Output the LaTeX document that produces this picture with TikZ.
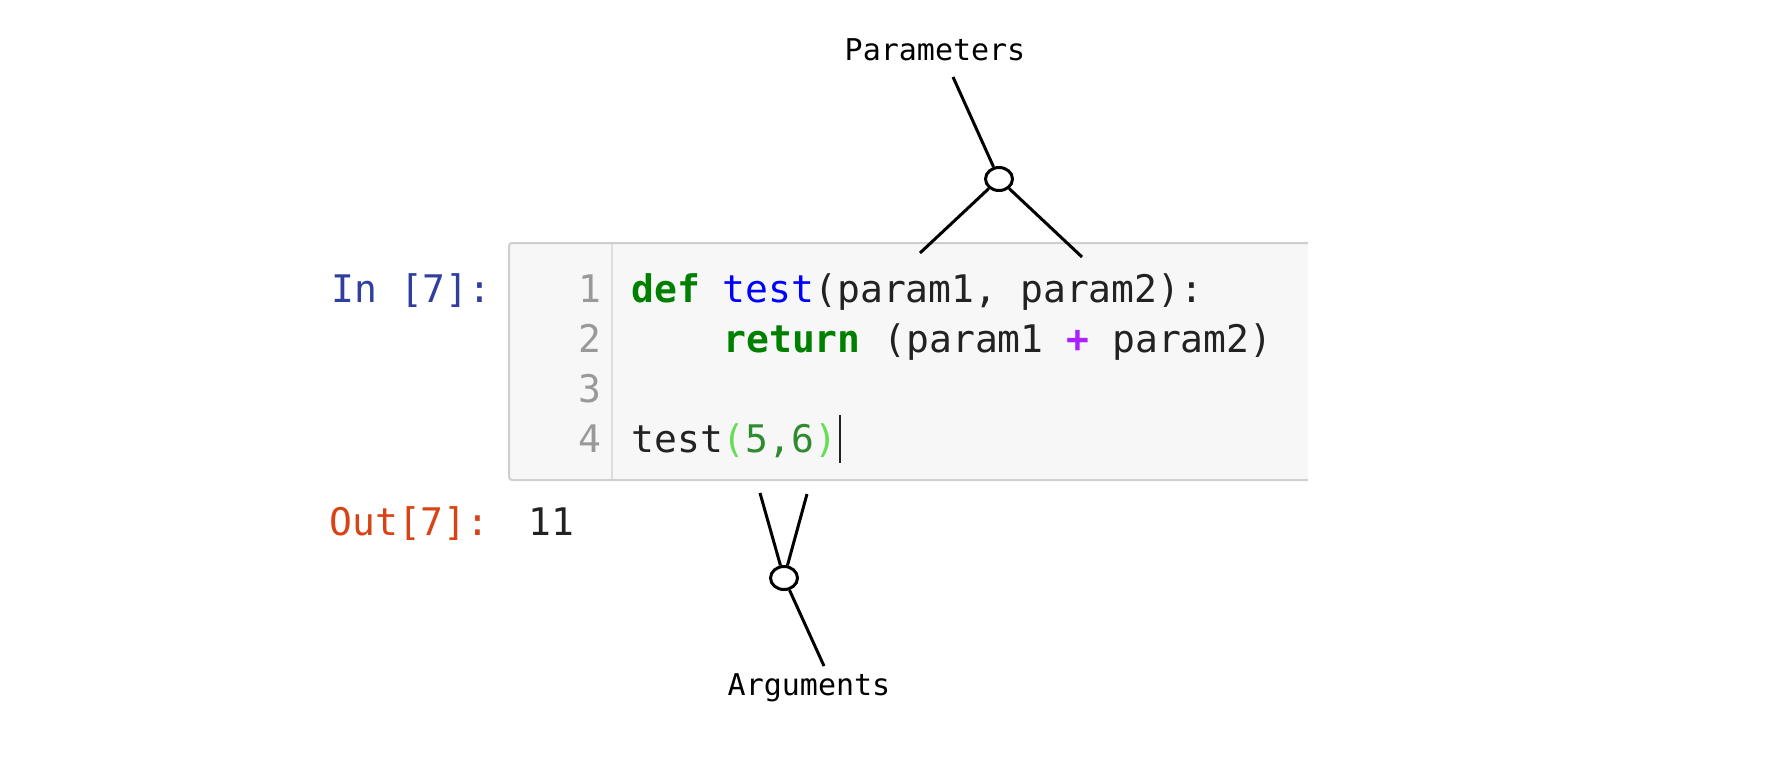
\documentclass[tikz,border=0pt]{standalone}
\usepackage{fontspec}
\setmonofont{DejaVu Sans Mono}
\usetikzlibrary{shapes.geometric}

\definecolor{promptin}{HTML}{303F9F}
\definecolor{promptout}{HTML}{D84315}
\definecolor{kwgreen}{HTML}{008000}
\definecolor{fnblue}{HTML}{0000FF}
\definecolor{opviolet}{HTML}{AA22FF}
\definecolor{numgreen}{HTML}{2E8B2E}
\definecolor{bracketgreen}{HTML}{66DD55}
\definecolor{codeink}{HTML}{222222}
\definecolor{linegray}{HTML}{999999}
\definecolor{cellfill}{HTML}{F7F7F7}
\definecolor{cellline}{HTML}{CFCFCF}
\definecolor{gutterline}{HTML}{DDDDDD}

\begin{document}
\begin{tikzpicture}[x=0.5pt, y=-0.5pt,
    code/.style={anchor=base west, inner sep=0, text=codeink, font=\ttfamily\fontsize{19}{23}\selectfont},
    prompt/.style={code},
    lineno/.style={anchor=base east, inner sep=0, text=linegray, font=\ttfamily\fontsize{19}{23}\selectfont},
    tag/.style={anchor=base, inner sep=0, font=\ttfamily\fontsize{15}{18}\selectfont},
    knot/.style={draw, ellipse, line width=1.5pt, fill=white, minimum width=13.5pt, minimum height=11.5pt, inner sep=0},
    tie/.style={line width=1.5pt}]

    \useasboundingbox (0,0) rectangle (1792,777);

    % Code cell
    \fill[cellfill] (509,243) rectangle (1308,480);
    \draw[cellline, line width=1pt, rounded corners=1.5pt] (1308,243) -- (509,243) -- (509,480) -- (1308,480);
    \draw[gutterline, line width=0.6pt] (612,244) -- (612,479);

    % Prompts
    \node[prompt, text=promptin] (inprompt) at (331,302) {In [7]:};
    \node[prompt, text=promptout] (outprompt) at (329,535) {Out[7]:};
    \node[code] (result) at (528,535) {11};

    % Line numbers
    \foreach \n/\y in {1/302, 2/352, 3/402, 4/452} {
        \node[lineno] (num\n) at (602,\y) {\n};
    }

    % Code lines
    \node[code] (defline) at (631,302) {\textcolor{kwgreen}{\bfseries def} \textcolor{fnblue}{test}(param1, param2):};
    \node[code] (returnline) at (723,352) {\textcolor{kwgreen}{\bfseries return} (param1 \textcolor{opviolet}{\bfseries +} param2)};
    \node[code] (callline) at (631,452) {test\textcolor{bracketgreen}{(}\textcolor{numgreen}{5,6}\textcolor{bracketgreen}{)}};
    \draw[codeink, line width=0.9pt] (840,415) -- (840,463);

    % Parameters
    \node[tag] (params) at (935,60) {Parameters};
    \node[knot] (paramknot) at (999,179) {};
    \coordinate (paramtail) at (953,77);
    \coordinate (paramleft) at (920,253);
    \coordinate (paramright) at (1082,257);
    \draw[tie] (paramknot) -- (paramtail);
    \draw[tie] (paramknot) -- (paramleft);
    \draw[tie] (paramknot) -- (paramright);

    % Arguments
    \node[tag] (args) at (809,695) {Arguments};
    \node[knot] (argknot) at (784,578) {};
    \coordinate (argtail) at (824,666);
    \coordinate (argleft) at (760,493);
    \coordinate (argright) at (807,494);
    \draw[tie] (argknot) -- (argtail);
    \draw[tie] (argknot) -- (argleft);
    \draw[tie] (argknot) -- (argright);
\end{tikzpicture}
\end{document}
